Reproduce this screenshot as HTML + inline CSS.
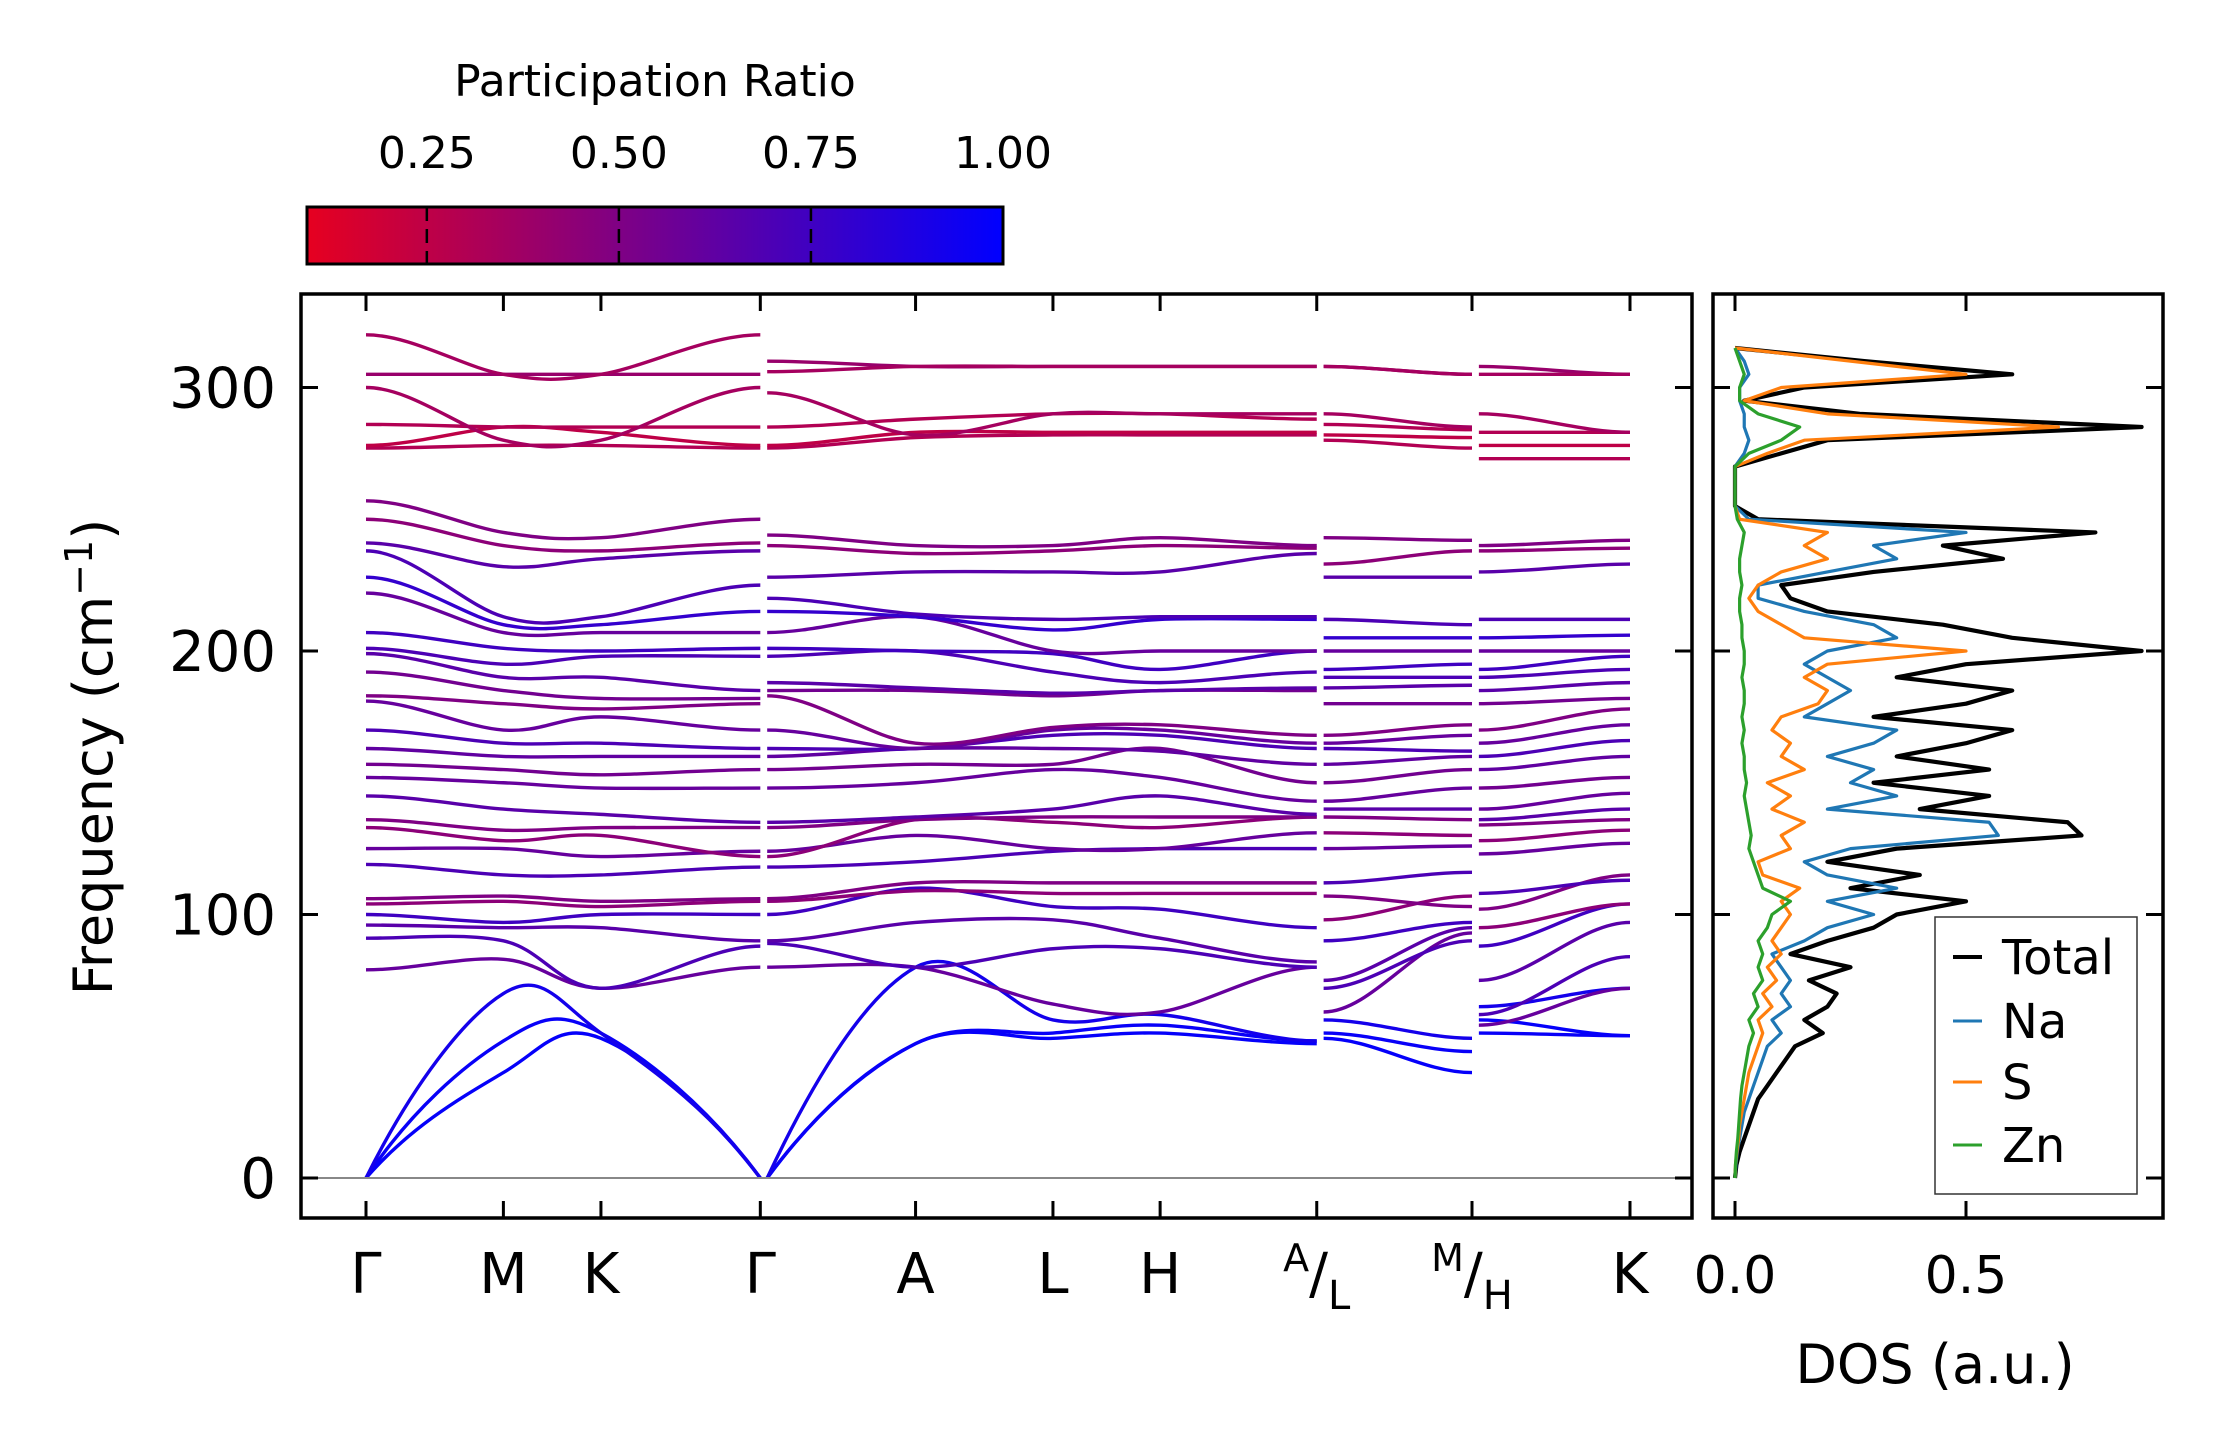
<!DOCTYPE html>
<html><head><meta charset="utf-8"><style>
body{margin:0;background:#fff}
svg{display:block;font-family:"DejaVu Sans","Liberation Sans",sans-serif}
</style></head><body>
<svg id="fig" width="2222" height="1455" viewBox="0 0 2222 1455" xmlns="http://www.w3.org/2000/svg">
<defs>
<linearGradient id="cmap" x1="0" x2="1" y1="0" y2="0">
<stop offset="0" stop-color="rgb(230,0,32)"/><stop offset="1" stop-color="rgb(0,0,255)"/>
</linearGradient>
<clipPath id="mainclip"><rect x="301" y="294" width="1391" height="924"/></clipPath>
<clipPath id="dosclip"><rect x="1713" y="294" width="450" height="924"/></clipPath>
</defs>
<g id="bands" clip-path="url(#mainclip)"></g>
<g id="dos" clip-path="url(#dosclip)"></g>
<g id="axes"></g>
</svg>
<script>
const kLabels = ["Γ","M","K","Γ","A","L","H","A|L","M|H","K"];
const kPos = [0,1,1.71,2.87,4.0,5.0,5.78,6.92,8.05,9.2];
const segIdx = [[0,1,2,3],[4,5,6,7,8],[9,10],[11,12]];
const segK = [[0,1,1.71,2.87],[2.92,4.0,5.0,5.78,6.92],[6.97,8.05],[8.10,9.2]];
const bands = [
[0,40,53,0, 0,51,53,55,51, 53,40, 60,54],
[0,52,55,0, 0,51,55,58,52, 55,48, 55,54],
[0,70,55,0, 0,80,60,62,52, 60,53, 65,72],
[79,83,72,80, 80,80,66,63,80, 63,93, 58,72],
[91,90,72,88, 89,80,87,87,80, 72,90, 62,84],
[96,95,95,90, 90,97,98,91,82, 75,95, 75,97],
[100,97,100,100, 100,110,103,102,95, 90,97, 88,104],
[104,105,103,105, 105,109,108,108,108, 98,107, 95,104],
[106,107,105,106, 106,112,112,112,112, 107,103, 102,115],
[119,115,115,118, 118,120,124,125,125, 112,116, 108,113],
[125,125,122,124, 124,130,125,125,131, 125,126, 123,127],
[133,128,130,122, 122,136,135,133,137, 131,130, 128,132],
[136,132,133,133, 133,136,137,137,137, 137,136, 134,136],
[145,140,138,135, 135,137,140,145,138, 140,140, 136,140],
[152,150,148,148, 148,150,155,152,143, 143,148, 140,146],
[157,155,153,155, 155,157,157,163,150, 150,155, 148,152],
[163,160,160,160, 160,163,163,162,157, 157,160, 155,160],
[170,165,165,163, 163,163,168,168,163, 163,162, 160,166],
[181,170,175,170, 170,163,170,170,165, 165,168, 165,172],
[183,180,178,180, 183,165,171,172,168, 168,172, 170,178],
[192,185,182,182, 185,185,183,185,185, 180,180, 180,182],
[199,190,190,185, 188,186,184,185,186, 186,187, 185,188],
[201,195,198,198, 198,200,192,188,192, 190,190, 190,193],
[207,201,200,201, 201,200,199,193,200, 193,195, 193,198],
[222,207,207,207, 207,213,200,200,200, 200,200, 200,200],
[228,210,210,215, 215,213,208,212,212, 205,205, 205,206],
[238,213,213,225, 220,214,212,213,213, 212,210, 212,212],
[241,232,235,238, 228,230,230,230,237, 228,228, 230,233],
[250,240,238,241, 240,237,238,240,239, 233,238, 238,239],
[257,245,243,250, 244,240,240,243,240, 243,242, 240,242],
[277,278,278,277, 277,281,282,282,282, 280,277, 273,273],
[278,285,283,278, 278,283,283,283,283, 282,281, 278,278],
[286,285,285,285, 285,288,290,290,288, 286,284, 283,283],
[300,280,280,300, 298,282,290,290,290, 290,285, 290,283],
[305,305,305,305, 310,308,308,308,308, 308,305, 308,305],
[320,305,305,320, 306,308,308,308,308, 308,305, 305,305]
];
const bandPR = [0.98,0.97,0.92,0.6,0.7,0.65,0.75,0.45,0.5,0.7,0.6,0.45,0.5,0.65,0.6,0.55,0.62,0.7,0.6,0.5,0.55,0.65,0.7,0.75,0.6,0.8,0.7,0.65,0.45,0.5,0.3,0.25,0.3,0.35,0.4,0.35];
const dosFreq = Array.from({length:64},(_, i)=>i*5);
const dosTotal=[0,0.003,0.01,0.02,0.03,0.04,0.05,0.07,0.09,0.11,0.13,0.19,0.15,0.2,0.22,0.16,0.25,0.12,0.2,0.3,0.35,0.5,0.25,0.4,0.2,0.35,0.75,0.72,0.4,0.55,0.3,0.55,0.35,0.5,0.6,0.3,0.5,0.6,0.35,0.5,0.88,0.6,0.45,0.2,0.12,0.1,0.3,0.58,0.45,0.78,0.05,0,0,0,0,0.1,0.2,0.88,0.27,0.02,0.15,0.6,0.28,0];
const dosNa=[0,0.002,0.005,0.01,0.015,0.02,0.03,0.04,0.05,0.06,0.07,0.1,0.08,0.12,0.1,0.12,0.1,0.08,0.15,0.2,0.3,0.2,0.35,0.2,0.15,0.25,0.57,0.55,0.2,0.35,0.25,0.3,0.2,0.3,0.35,0.15,0.2,0.25,0.2,0.15,0.2,0.35,0.3,0.15,0.05,0.05,0.2,0.35,0.3,0.5,0.03,0,0,0,0,0.02,0.03,0.02,0.02,0.01,0.01,0.03,0.02,0];
const dosS=[0,0.001,0.004,0.008,0.01,0.015,0.02,0.025,0.03,0.04,0.05,0.06,0.05,0.08,0.06,0.09,0.07,0.1,0.08,0.1,0.12,0.1,0.14,0.06,0.05,0.12,0.1,0.15,0.08,0.12,0.07,0.15,0.1,0.12,0.08,0.1,0.18,0.2,0.15,0.2,0.5,0.15,0.1,0.05,0.03,0.05,0.1,0.2,0.15,0.2,0.01,0,0,0,0,0.07,0.15,0.7,0.2,0.02,0.1,0.5,0.25,0];
const dosZn=[0,0.001,0.003,0.006,0.008,0.01,0.012,0.015,0.02,0.025,0.03,0.04,0.03,0.05,0.04,0.06,0.05,0.06,0.05,0.07,0.08,0.12,0.06,0.05,0.04,0.03,0.035,0.03,0.025,0.02,0.025,0.02,0.02,0.015,0.02,0.015,0.02,0.02,0.015,0.02,0.02,0.015,0.015,0.01,0.01,0.015,0.01,0.01,0.015,0.02,0.005,0,0,0,0,0.03,0.1,0.14,0.05,0.01,0.01,0.02,0.01,0];
const yTicks=[0,100,200,300];
const cbTicks=["0.25","0.50","0.75","1.00"];

const NS="http://www.w3.org/2000/svg";
const X0=366, XS=(1630-366)/9.2;
const kx = k=>X0+k*XS;
const fy = f=>1178-f*2.635;
const dx = v=>1735+v*462;
const cbx = v=>307+(v-0.094)*(1003-307)/(1-0.094);
function prColor(p){const t=(p-0.094)/(1-0.094);return `rgb(${Math.round(230*(1-t))},0,${Math.round(32+(255-32)*t)})`;}
function mk(tag,attrs,parent){const e=document.createElementNS(NS,tag);for(const k in attrs)e.setAttribute(k,attrs[k]);parent.appendChild(e);return e;}
function smoothPath(pts,vals){
  let d=`M${pts[0][0]},${pts[0][1]}`;
  for(let i=0;i<pts.length-1;i++){
    const p0=pts[Math.max(0,i-1)],p1=pts[i],p2=pts[i+1],p3=pts[Math.min(pts.length-1,i+2)];
    let c1=[p1[0]+(p2[0]-p0[0])/6,p1[1]+(p2[1]-p0[1])/6];
    let c2=[p2[0]-(p3[0]-p1[0])/6,p2[1]-(p3[1]-p1[1])/6];
    // zero-frequency (acoustic) points: linear dispersion; high-symmetry ends otherwise flat
    if(vals[i]===0){c1=[p1[0]+(p2[0]-p1[0])/3,p1[1]+(p2[1]-p1[1])/2];}
    else if(i===0){c1=[p1[0]+(p2[0]-p1[0])/3,p1[1]];}
    if(vals[i+1]===0){c2=[p2[0]-(p2[0]-p1[0])/3,p2[1]-(p2[1]-p1[1])/2];}
    else if(i===pts.length-2){c2=[p2[0]-(p2[0]-p1[0])/3,p2[1]];}
    d+=` C${c1[0]},${c1[1]} ${c2[0]},${c2[1]} ${p2[0]},${p2[1]}`;
  }
  return d;
}
const gB=document.getElementById('bands');
bands.forEach((row,bi)=>{
  segIdx.forEach((idx,si)=>{
    const pts=idx.map((j,n)=>[kx(segK[si][n]),fy(row[j])]);
    const vals=idx.map(j=>row[j]);
    const p=mk('path',{d:smoothPath(pts,vals),fill:'none',stroke:prColor(bandPR[bi]),'stroke-width':3.4},gB);
    
    
  });
});
const gD=document.getElementById('dos');
[[dosTotal,'#000',4.2,'dos-total'],[dosNa,'#1f77b4',3.2,'dos-na'],[dosS,'#ff7f0e',3.2,'dos-s'],[dosZn,'#2ca02c',3.2,'dos-zn']].forEach(([arr,c,w,n])=>{
  const d=arr.map((v,i)=>(i?'L':'M')+dx(v)+','+fy(dosFreq[i])).join(' ');
  const p=mk('path',{d:d,fill:'none',stroke:c,'stroke-width':w,'stroke-linejoin':'round'},gD);
  
  
});
const gA=document.getElementById('axes');
let zl=mk('line',{x1:301,x2:1692,y1:fy(0),y2:fy(0),stroke:'#888','stroke-width':2},gA);


let f1=mk('rect',{x:301,y:294,width:1391,height:924,fill:'none',stroke:'#000','stroke-width':3.5},gA);


let f2=mk('rect',{x:1713,y:294,width:450,height:924,fill:'none',stroke:'#000','stroke-width':3.5},gA);


yTicks.forEach(v=>{
  const y=fy(v);
  [[301,318],[1692,1675],[1713,1730],[2163,2146]].forEach(([a,b])=>mk('line',{x1:a,x2:b,y1:y,y2:y,stroke:'#000','stroke-width':3},gA));
  const t=mk('text',{x:276,y:y+20,'text-anchor':'end','font-size':56},gA);t.textContent=v;
  
  
});
kLabels.forEach((lab,i)=>{
  const x=kx(kPos[i]);
  mk('line',{x1:x,x2:x,y1:1218,y2:1201,stroke:'#000','stroke-width':3},gA);
  mk('line',{x1:x,x2:x,y1:294,y2:311,stroke:'#000','stroke-width':3},gA);
  const t=mk('text',{x:x,y:1293,'text-anchor':'middle','font-size':56},gA);
  if(lab.includes('|')){
    const [a,b]=lab.split('|');
    t.innerHTML=`<tspan font-size="38" dy="-22">${a}</tspan><tspan font-size="56" dy="22">/</tspan><tspan font-size="40" dy="16">${b}</tspan>`;
  } else t.textContent=lab;
  
  
});
[[0,'0.0'],[0.5,'0.5']].forEach(([v,l])=>{
  const x=dx(v);
  mk('line',{x1:x,x2:x,y1:1218,y2:1201,stroke:'#000','stroke-width':3},gA);
  mk('line',{x1:x,x2:x,y1:294,y2:311,stroke:'#000','stroke-width':3},gA);
  const t=mk('text',{x:x,y:1293,'text-anchor':'middle','font-size':52},gA);t.textContent=l;
  
  
});
let xl=mk('text',{x:1935,y:1383,'text-anchor':'middle','font-size':54},gA);xl.textContent='DOS (a.u.)';


let yl=mk('text',{x:112,y:757,'text-anchor':'middle','font-size':54,transform:'rotate(-90 112 757)'},gA);
yl.innerHTML='Frequency (cm<tspan font-size="38" dy="-20">−1</tspan><tspan dy="20">)</tspan>';


const lg=mk('g',{},gA);


mk('rect',{x:1935,y:917,width:202,height:277,fill:'#fff',stroke:'#333','stroke-width':1.5},lg);
[['Total','#000',957],['Na','#1f77b4',1021],['S','#ff7f0e',1082],['Zn','#2ca02c',1145]].forEach(([n,c,y])=>{
  const e=mk('g',{},lg);
  
  
  mk('line',{x1:1953,x2:1982,y1:y,y2:y,stroke:c,'stroke-width':n==='Total'?4:3},e);
  const t=mk('text',{x:2002,y:y+17,'font-size':48},e);t.textContent=n;
});
const cb=mk('g',{},gA);


mk('rect',{x:307,y:207,width:696,height:57,fill:'url(#cmap)',stroke:'#000','stroke-width':3},cb);
cbTicks.forEach(l=>{
  const x=cbx(parseFloat(l));
  if(parseFloat(l)<1) mk('line',{x1:x,x2:x,y1:207,y2:264,stroke:'#000','stroke-width':2.5,'stroke-dasharray':'14,8'},cb);
  const t=mk('text',{x:x,y:168,'text-anchor':'middle','font-size':44},cb);t.textContent=l;
  
  
});
let ct=mk('text',{x:655,y:96,'text-anchor':'middle','font-size':44},cb);ct.textContent='Participation Ratio';


</script>
</body></html>
